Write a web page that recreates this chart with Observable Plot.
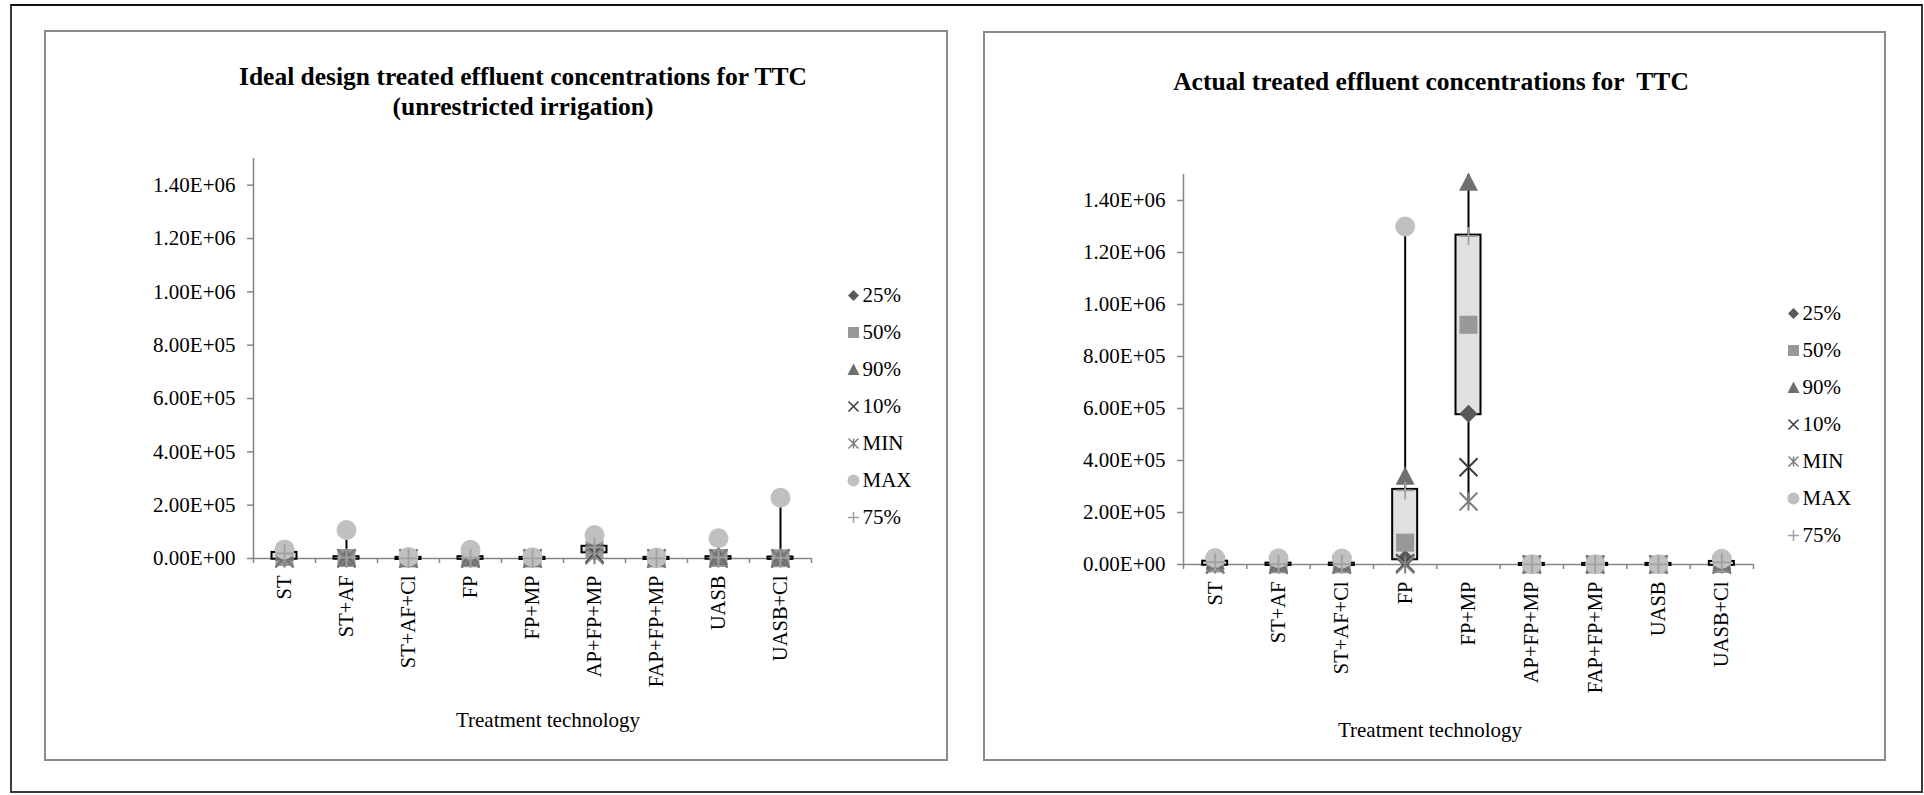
<!DOCTYPE html>
<html>
<head>
<meta charset="utf-8">
<script src="https://cdn.jsdelivr.net/npm/d3@7"></script>
<script src="https://cdn.jsdelivr.net/npm/@observablehq/plot@0.6"></script>
<style>
html,body{margin:0;padding:0;background:#fff;}
body{width:1924px;height:795px;position:relative;overflow:hidden;font-family:"Liberation Serif","Times New Roman",serif;color:#000;}
.frame{position:absolute;left:10px;top:4px;width:1913px;height:789px;box-sizing:border-box;border:2px solid #3a3a3a;border-top-color:#111;}
.panel{position:absolute;box-sizing:border-box;border:2px solid #8a8a8a;}
.title{position:absolute;font-weight:bold;font-size:25.5px;text-align:center;white-space:pre;line-height:30px;transform:translate(-50%,-50%);}
.xtitle{position:absolute;font-size:21px;white-space:nowrap;transform:translate(-50%,-50%);}
.abs{position:absolute;}
</style>
</head>
<body>
<div class="frame"></div>
<div class="panel" style="left:44px;top:30px;width:904px;height:731px;"></div>
<div class="panel" style="left:983px;top:31px;width:903px;height:730px;"></div>
<div class="title" style="left:523px;top:92px;">Ideal design treated effluent concentrations for TTC
(unrestricted irrigation)</div>
<div class="title" style="left:1431px;top:82px;">Actual treated effluent concentrations for  TTC</div>
<div class="xtitle" style="left:548px;top:720px;">Treatment technology</div>
<div class="xtitle" style="left:1430px;top:730px;">Treatment technology</div>
<div id="leftChart" class="abs" style="left:130px;top:130px;"></div>
<div id="rightChart" class="abs" style="left:1060px;top:146px;"></div>
<div id="leftLegend" class="abs" style="left:843px;top:279px;"></div>
<div id="rightLegend" class="abs" style="left:1783px;top:297px;"></div>
<script>
// ---------- data ----------
const categories = ["ST","ST+AF","ST+AF+Cl","FP","FP+MP","AP+FP+MP","FAP+FP+MP","UASB","UASB+Cl"];
const seriesNames = ["25%","50%","90%","10%","MIN","MAX","75%"];
const yTicks = [0, 200000, 400000, 600000, 800000, 1000000, 1200000, 1400000];
const yMax = 1500000;

// Ideal design treated effluent concentrations (unrestricted irrigation)
const ideal_p25 = [1000, 1000, 100, 500, 100, 25000, 100, 1000, 500];
const ideal_p50 = [6000, 2000, 200, 1000, 200, 33000, 200, 2000, 1000];
const ideal_p90 = [25000, 5000, 1000, 5000, 1000, 60000, 1000, 8000, 5000];
const ideal_p10 = [1000, 500, 50, 200, 50, 18000, 50, 500, 100];
const ideal_min = [0, 0, 0, 0, 0, 12000, 0, 0, 0];
const ideal_max = [34000, 107000, 6000, 33000, 5000, 88000, 4000, 76000, 228000];
const ideal_p75 = [19000, 3000, 500, 3000, 500, 42000, 500, 3000, 2000];

// Actual treated effluent concentrations
const actual_p25 = [1000, 300, 300, 22000, 580000, 100, 100, 100, 500];
const actual_p50 = [4000, 1000, 1000, 84000, 922000, 200, 200, 200, 2000];
const actual_p90 = [15000, 6000, 6000, 340000, 1470000, 800, 800, 800, 10000];
const actual_p10 = [500, 100, 100, 5000, 374000, 50, 50, 50, 200];
const actual_min = [0, 0, 0, 0, 242000, 0, 0, 0, 0];
const actual_max = [25000, 24000, 23000, 1300000, 1600000, 1000, 1000, 1000, 22000];
const actual_p75 = [9000, 1500, 1500, 285000, 1263000, 400, 400, 400, 8000];

// ---------- helpers ----------
const FONT = '"Liberation Serif","Times New Roman",serif';
const sym = f => ({draw(ctx, size) { f(ctx, Math.sqrt(size / Math.PI)); }});
const SYM = {
  diamond: sym((c,h)=>{c.moveTo(0,-h);c.lineTo(h,0);c.lineTo(0,h);c.lineTo(-h,0);c.closePath();}),
  square: sym((c,h)=>{c.moveTo(-h,-h);c.lineTo(h,-h);c.lineTo(h,h);c.lineTo(-h,h);c.closePath();}),
  triangle: sym((c,h)=>{c.moveTo(0,-h);c.lineTo(h,h*0.9);c.lineTo(-h,h*0.9);c.closePath();}),
  times: sym((c,h)=>{c.moveTo(-h,-h);c.lineTo(h,h);c.moveTo(-h,h);c.lineTo(h,-h);}),
  star: sym((c,h)=>{c.moveTo(-h,-h);c.lineTo(h,h);c.moveTo(-h,h);c.lineTo(h,-h);c.moveTo(0,-h);c.lineTo(0,h);}),
  circle: sym((c,h)=>{c.moveTo(h,0);c.arc(0,0,h,0,2*Math.PI);}),
  plus: sym((c,h)=>{c.moveTo(-h,0);c.lineTo(h,0);c.moveTo(0,-h);c.lineTo(0,h);})
};
const series = [
  {key:"p25", symbol:SYM.diamond,  r:9,   lr:5.5, fill:"#595959", stroke:"none"},
  {key:"p50", symbol:SYM.square,   r:9,   lr:5.5, fill:"#989898", stroke:"none"},
  {key:"p90", symbol:SYM.triangle, r:9.5, lr:6,   fill:"#6f6f6f", stroke:"none"},
  {key:"p10", symbol:SYM.times,    r:9,   lr:5,   fill:"none", stroke:"#3a3a3a", sw:2},
  {key:"min", symbol:SYM.star,     r:9,   lr:5,   fill:"none", stroke:"#808080", sw:2},
  {key:"max", symbol:SYM.circle,   r:10,  lr:6,   fill:"#c0c0c0", stroke:"none"},
  {key:"p75", symbol:SYM.plus,     r:9,   lr:5.5, fill:"none", stroke:"#a0a0a0", sw:1.8}
];
series.forEach((s,i)=> s.name = seriesNames[i]);

const fmt = v => v.toExponential(2).toUpperCase().replace(/E([+-])(\d)$/, "E$10$2");

function rowsOf(p25,p50,p90,p10,mn,mx,p75){
  return categories.map((c,i)=>({cat:c, pos:i+0.5, p25:p25[i], p50:p50[i], p90:p90[i], p10:p10[i], min:mn[i], max:mx[i], p75:p75[i]}));
}

function chart(rows, o){
  const axisColor = "#868686";
  return Plot.plot({
    width: o.width, height: o.height,
    marginLeft: o.ml, marginTop: o.mt, marginRight: o.mr, marginBottom: o.mb,
    style: {fontFamily: FONT, fontSize: "21px", color: "#000", background: "transparent", overflow: "visible"},
    x: {domain: [0, categories.length], axis: null},
    y: {domain: [0, yMax], axis: null},
    marks: [
      Plot.axisY(yTicks, {tickFormat: fmt, tickSize: 6, tickPadding: 12, stroke: axisColor, strokeWidth: 1.5, fontSize: 21, label: null}),
      Plot.axisX(d3.range(categories.length + 1), {tickSize: 5, tickFormat: () => "", stroke: axisColor, strokeWidth: 1.5, label: null}),
      Plot.axisX(rows.map(d => d.pos), {tickSize: 0, tickPadding: 17, tickRotate: -90, tickFormat: v => categories[Math.floor(v)], fontSize: 20.5, label: null}),
      Plot.ruleX([0], {stroke: axisColor, strokeWidth: 1.5}),
      Plot.ruleY([0], {stroke: axisColor, strokeWidth: 1.5}),
      Plot.ruleX(rows, {x: "pos", y1: "min", y2: "max", stroke: "#000", strokeWidth: 2, clip: true}),
      Plot.rect(rows, {x1: "pos", x2: "pos", y1: "p25", y2: "p75", insetLeft: -12.5, insetRight: -12.5, insetTop: -1, insetBottom: -1, fill: "#e0e0e0", stroke: "#000", strokeWidth: 2}),
      ...series.map(s => Plot.dot(rows.filter(d => d[s.key] <= yMax), {x: "pos", y: s.key, symbol: s.symbol, r: s.r, fill: s.fill, stroke: s.stroke, strokeWidth: s.sw || 0}))
    ]
  });
}

function legend(step){
  return Plot.plot({
    width: 120, height: 14 + 6*step + 20, margin: 0,
    style: {fontFamily: FONT, fontSize: "21px", color: "#000", background: "transparent", overflow: "visible"},
    x: {domain: [0, 1], range: [10, 110], axis: null},
    y: {type: "point", domain: seriesNames, range: [14, 14 + 6*step], padding: 0, axis: null},
    marks: [
      ...series.map(s => Plot.dot([s.name], {x: 0, y: d => d, symbol: s.symbol, r: s.lr, fill: s.fill, stroke: s.stroke, strokeWidth: s.sw ? 1.5 : 0})),
      Plot.text(seriesNames, {x: 0, y: d => d, text: d => d, dx: 9, textAnchor: "start", fontSize: 21, fill: "#000"})
    ]
  });
}

const idealRows = rowsOf(ideal_p25, ideal_p50, ideal_p90, ideal_p10, ideal_min, ideal_max, ideal_p75);
const actualRows = rowsOf(actual_p25, actual_p50, actual_p90, actual_p10, actual_min, actual_max, actual_p75);

document.getElementById("leftChart").append(chart(idealRows, {width: 701, height: 578, ml: 123, mt: 28, mr: 20, mb: 150}));
document.getElementById("rightChart").append(chart(actualRows, {width: 713, height: 568, ml: 123, mt: 28, mr: 20, mb: 150}));
document.getElementById("leftLegend").append(legend(37.8));
document.getElementById("rightLegend").append(legend(37.8));
</script>
</body>
</html>
